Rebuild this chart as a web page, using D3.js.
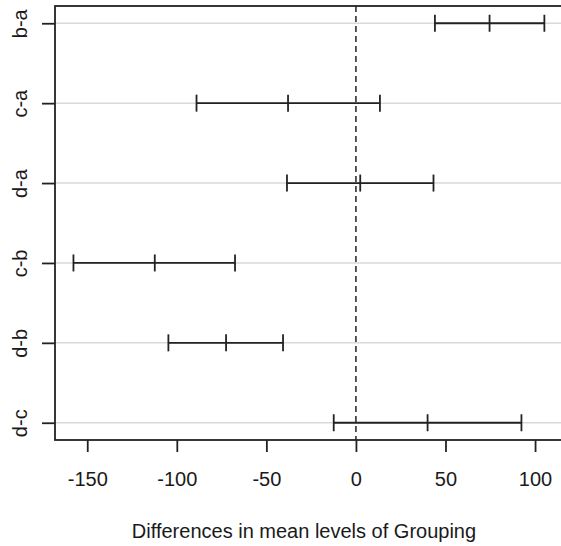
<!DOCTYPE html>
<html>
<head>
<meta charset="utf-8">
<script src="https://cdn.jsdelivr.net/npm/d3@7"></script>
<style>
  body { margin: 0; background: #fff; }
  svg text { font-family: "Liberation Sans", Arial, sans-serif; fill: #1a1a1a; }
</style>
</head>
<body>
<svg id="chart" width="561" height="546"></svg>
<script>
// Tukey HSD style comparisons
var comparisons = ['b-a', 'c-a', 'd-a', 'c-b', 'd-b', 'd-c'];
var diffValues = [74.6, -37.9, 2.4, -112.3, -72.5, 40.0];
var lowerValues = [44.1, -89.0, -38.5, -157.7, -104.7, -12.4];
var upperValues = [105.2, 13.4, 43.3, -67.5, -40.7, 92.4];
var xTicks = [-150, -100, -50, 0, 50, 100];
var xTitle = 'Differences in mean levels of Grouping';

var svg = d3.select('#chart');

var plotLeft = 55, plotTop = 6, plotRight = 563, plotBottom = 440;

var x = d3.scaleLinear()
  .domain([-168, 115.6])
  .range([plotLeft, plotRight]);

// 1 at bottom (d-c), 6 at top (b-a), padded like R
var y = d3.scaleLinear()
  .domain([0.784, 6.216])
  .range([plotBottom, plotTop]);

var rows = comparisons.map(function(c, i) {
  return { name: c, pos: comparisons.length - i, diff: diffValues[i], lo: lowerValues[i], hi: upperValues[i] };
});

// grid lines
svg.selectAll('line.grid')
  .data(rows)
  .enter()
  .append('line')
  .attr('class', 'grid')
  .attr('x1', plotLeft)
  .attr('x2', plotRight)
  .attr('y1', function(d) { return y(d.pos); })
  .attr('y2', function(d) { return y(d.pos); })
  .attr('stroke', '#d9d9d9')
  .attr('stroke-width', 1.5);

// dashed zero line
svg.append('line')
  .attr('x1', x(0))
  .attr('x2', x(0))
  .attr('y1', plotTop)
  .attr('y2', plotBottom)
  .attr('stroke', '#222')
  .attr('stroke-width', 1.5)
  .attr('stroke-dasharray', '6,4');

// intervals
var bars = svg.selectAll('g.bar')
  .data(rows)
  .enter()
  .append('g')
  .attr('class', 'bar')
  .attr('stroke', '#222')
  .attr('stroke-width', 1.8);

bars.append('line')
  .attr('x1', function(d) { return x(d.lo); })
  .attr('x2', function(d) { return x(d.hi); })
  .attr('y1', function(d) { return y(d.pos); })
  .attr('y2', function(d) { return y(d.pos); });

['lo', 'diff', 'hi'].forEach(function(k) {
  bars.append('line')
    .attr('x1', function(d) { return x(d[k]); })
    .attr('x2', function(d) { return x(d[k]); })
    .attr('y1', function(d) { return y(d.pos) - 8.5; })
    .attr('y2', function(d) { return y(d.pos) + 8.5; });
});

// box
svg.append('rect')
  .attr('x', plotLeft)
  .attr('y', plotTop)
  .attr('width', plotRight - plotLeft)
  .attr('height', plotBottom - plotTop)
  .attr('fill', 'none')
  .attr('stroke', '#222')
  .attr('stroke-width', 1.8);

// x axis
var xAxis = svg.append('g')
  .attr('transform', 'translate(0,' + plotBottom + ')')
  .call(d3.axisBottom(x).tickValues(xTicks).tickSize(12).tickPadding(20)
    .tickFormat(function(v) { return String(v); }));
xAxis.select('.domain').remove();
xAxis.selectAll('line').attr('stroke', '#222').attr('stroke-width', 1.8);
xAxis.selectAll('text').style('font-size', '20px').attr('fill', '#1a1a1a');

// y axis
var yAxis = svg.append('g')
  .attr('transform', 'translate(' + plotLeft + ',0)')
  .call(d3.axisLeft(y).tickValues(rows.map(function(d) { return d.pos; })).tickSize(13).tickFormat(function(v) {
    return comparisons[comparisons.length - v];
  }));
yAxis.select('.domain').remove();
yAxis.selectAll('line').attr('stroke', '#222').attr('stroke-width', 1.8);
yAxis.selectAll('text')
  .style('font-size', '20px')
  .attr('fill', '#1a1a1a')
  .attr('x', null)
  .attr('dy', null)
  .attr('text-anchor', 'middle')
  .attr('transform', 'translate(-28,0) rotate(-90)');

// axis title
svg.append('text')
  .attr('x', 304)
  .attr('y', 538)
  .attr('text-anchor', 'middle')
  .style('font-size', '20px')
  .text(xTitle);
</script>
</body>
</html>
